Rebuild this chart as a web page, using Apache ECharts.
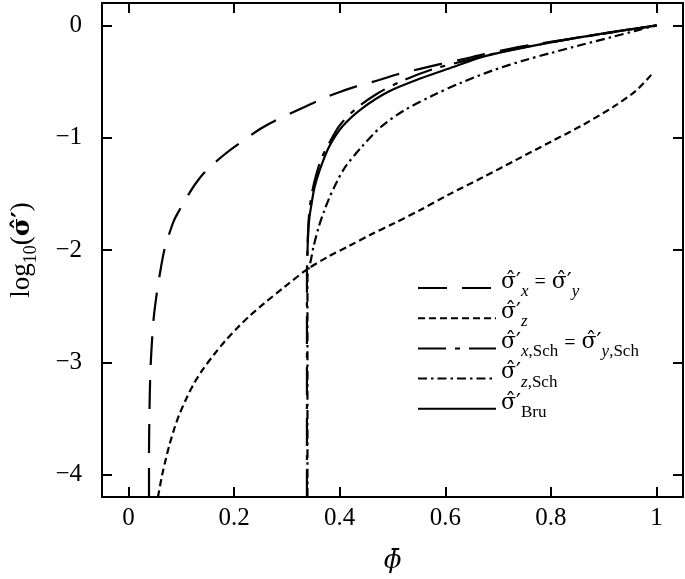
<!DOCTYPE html>
<html><head><meta charset="utf-8">
<script src="https://cdn.jsdelivr.net/npm/echarts@6/dist/echarts.min.js"></script>
<style>html,body{margin:0;padding:0;background:#fff}#c{width:685px;height:579px}</style>
</head><body><div id="c"></div>
<script>
// tick values
const xTicks = [0, 0.2, 0.4, 0.6, 0.8, 1];
const yTicks = [-4, -3, -2, -1, 0];

// sigma'_x = sigma'_y  (long dash)
const sxX = [0.039, 0.039, 0.040, 0.0415, 0.0445, 0.048, 0.053, 0.060, 0.068, 0.077, 0.086, 0.096, 0.112, 0.127, 0.143, 0.163, 0.183, 0.204, 0.25, 0.275, 0.322, 0.35, 0.374, 0.399, 0.43, 0.473, 0.51, 0.554, 0.59, 0.634, 0.67, 0.72, 0.776, 0.84, 0.9, 0.95, 1.0];
const sxY = [-4.2, -3.8, -3.41, -3.1, -2.82, -2.6, -2.41, -2.2, -2.0, -1.86, -1.74, -1.65, -1.52, -1.41, -1.315, -1.225, -1.145, -1.07, -0.92, -0.855, -0.75, -0.69, -0.64, -0.595, -0.545, -0.488, -0.435, -0.384, -0.345, -0.30, -0.26, -0.21, -0.163, -0.118, -0.072, -0.036, 0];

// sigma'_z (short dash)
const szX = [0.056, 0.064, 0.071, 0.078, 0.087, 0.096, 0.11, 0.124, 0.14, 0.164, 0.185, 0.207, 0.23, 0.257, 0.294, 0.339, 0.38, 0.417, 0.46, 0.504, 0.55, 0.609, 0.67, 0.733, 0.8, 0.857, 0.918, 0.96, 0.99];
const szY = [-4.2, -4.0, -3.86, -3.73, -3.59, -3.47, -3.32, -3.19, -3.07, -2.92, -2.80, -2.69, -2.585, -2.475, -2.335, -2.17, -2.055, -1.966, -1.86, -1.76, -1.65, -1.50, -1.355, -1.20, -1.035, -0.895, -0.725, -0.585, -0.44];

// sigma'_{x,Sch} = sigma'_{y,Sch} (long dash - dot)
const sxsX = [0.338, 0.338, 0.339, 0.341, 0.344, 0.348, 0.355, 0.365, 0.38, 0.40, 0.43, 0.47, 0.52, 0.58, 0.65, 0.72, 0.8, 0.9, 1.0];
const sxsY = [-4.2, -2.2, -2.0, -1.75, -1.60, -1.48, -1.34, -1.19, -1.05, -0.89, -0.745, -0.61, -0.49, -0.385, -0.30, -0.222, -0.15, -0.07, 0];

// sigma'_{z,Sch} (dash-dot)
const szsX = [0.339, 0.339, 0.341, 0.345, 0.35, 0.36, 0.37, 0.38, 0.395, 0.411, 0.442, 0.479, 0.523, 0.578, 0.63, 0.69, 0.75, 0.8, 0.86, 0.918, 0.96, 1.0];
const szsY = [-4.2, -2.25, -2.17, -2.10, -1.98, -1.80, -1.66, -1.54, -1.39, -1.257, -1.08, -0.90, -0.754, -0.62, -0.51, -0.40, -0.31, -0.245, -0.17, -0.10, -0.048, 0];

// sigma'_Bru (solid)
const bruX = [0.339, 0.3395, 0.341, 0.343, 0.346, 0.352, 0.362, 0.38, 0.405, 0.442, 0.492, 0.554, 0.615, 0.67, 0.73, 0.8, 0.9, 1.0];
const bruY = [-2.05, -1.95, -1.80, -1.70, -1.61, -1.45, -1.29, -1.08, -0.90, -0.74, -0.59, -0.47, -0.37, -0.28, -0.215, -0.15, -0.07, 0];

const seriesNames = ['sx', 'sz', 'sxs', 'szs', 'bru'];

function pairs(xs, ys) { return xs.map((x, i) => [x, ys[i]]); }

const F = 'Liberation Serif';
const G = 'DejaVu Serif';
const S = 'σ\u0302\u2032';
const legendText = {
  sx: `{m|${S}}{i|x}{e|=}{m|${S}}{i|y}`,
  sz: `{m|${S}}{i|z}`,
  sxs: `{m|${S}}{i|x}{r|,Sch}{e|=}{m|${S}}{i|y}{r|,Sch}`,
  szs: `{m|${S}}{i|z}{r|,Sch}`,
  bru: `{m|${S}}{r|Bru}`
};
const rich = {
  m: {fontFamily: G, fontSize: 22, color: '#000', lineHeight: 24, padding: [0, 0, 7, 0], verticalAlign: 'bottom'},
  e: {fontFamily: F, fontSize: 20, color: '#000', lineHeight: 24, padding: [0, 6, 7, 6], verticalAlign: 'bottom'},
  i: {fontFamily: F, fontSize: 17, fontStyle: 'italic', color: '#000', lineHeight: 16, verticalAlign: 'bottom'},
  r: {fontFamily: F, fontSize: 17, color: '#000', lineHeight: 16, verticalAlign: 'bottom'}
};

function fmt(v) {
  if (Math.abs(v) < 1e-9) return '0';
  const s = String(+v.toFixed(2));
  return v < 0 ? '\u2212' + s.slice(1) : s;
}

const tickStyle = {color: '#000', width: 2};
const baseAxis = {
  type: 'value',
  axisLine: {show: true, onZero: false, lineStyle: {color: '#000', width: 2}},
  splitLine: {show: false}
};

const chart = echarts.init(document.getElementById('c'));
chart.setOption({
  animation: false,
  backgroundColor: '#fff',
  grid: {left: 92, right: 2, top: 3, bottom: 81},
  xAxis: [
    Object.assign({}, baseAxis, {
      min: -0.05, max: 1.05, position: 'bottom',
      axisTick: {inside: true, length: 10, lineStyle: tickStyle, customValues: xTicks},
      axisLabel: {customValues: xTicks, formatter: fmt, fontFamily: F, fontSize: 25, color: '#000', margin: 9},
      name: 'ϕ\u0304', nameLocation: 'middle', nameGap: 51,
      nameTextStyle: {fontFamily: G, fontSize: 26, fontStyle: 'italic', color: '#000'}
    }),
    Object.assign({}, baseAxis, {
      min: -0.05, max: 1.05, position: 'top',
      axisTick: {inside: true, length: 10, lineStyle: tickStyle, customValues: xTicks},
      axisLabel: {show: false}
    })
  ],
  yAxis: [
    Object.assign({}, baseAxis, {
      min: -4.2, max: 0.2, position: 'left',
      axisTick: {inside: true, length: 10, lineStyle: tickStyle, customValues: yTicks},
      axisLabel: {customValues: yTicks, formatter: fmt, fontFamily: F, fontSize: 25, color: '#000', margin: 20},
      name: '{n|log}{s|10}{n|(}{b|σ\u0302\u2032}{n|)}', nameLocation: 'middle', nameGap: 62, nameRotate: 90,
      nameTextStyle: {
        rich: {
          n: {fontFamily: F, fontSize: 27, color: '#000', lineHeight: 28, padding: [0, 0, 5, 0], verticalAlign: 'bottom'},
          s: {fontFamily: F, fontSize: 18, color: '#000', lineHeight: 18, verticalAlign: 'bottom'},
          b: {fontFamily: G, fontSize: 25, fontWeight: 'bold', color: '#000', lineHeight: 28, padding: [0, 0, 5, 0], verticalAlign: 'bottom'}
        }
      }
    }),
    Object.assign({}, baseAxis, {
      min: -4.2, max: 0.2, position: 'right',
      axisTick: {inside: true, length: 10, lineStyle: tickStyle, customValues: yTicks},
      axisLabel: {show: false}
    })
  ],
  legend: {
    orient: 'vertical', left: 412, top: 266, itemWidth: 78, itemHeight: 12, itemGap: 1.2,
    data: seriesNames,
    itemStyle: {opacity: 0, borderWidth: 0},
    formatter: n => legendText[n],
    textStyle: {rich: rich, fontFamily: F, fontSize: 22, color: '#000'}
  },
  series: [
    {name: 'sx', data: pairs(sxX, sxY), lineStyle: {type: [29, 15]}},
    {name: 'sz', data: pairs(szX, szY), lineStyle: {type: [7, 4]}},
    {name: 'sxs', data: pairs(sxsX, sxsY), lineStyle: {type: [28, 9, 5, 9]}},
    {name: 'szs', data: pairs(szsX, szsY), lineStyle: {type: [9, 4, 2.5, 4]}},
    {name: 'bru', data: pairs(bruX, bruY), lineStyle: {type: 'solid'}}
  ].map(s => Object.assign({
    type: 'line', showSymbol: false, symbol: 'none', smooth: 0.3,
    xAxisIndex: 0, yAxisIndex: 0, color: '#000'
  }, s, {lineStyle: Object.assign({color: '#000', width: 2.2}, s.lineStyle)}))
});
</script>
</body></html>
